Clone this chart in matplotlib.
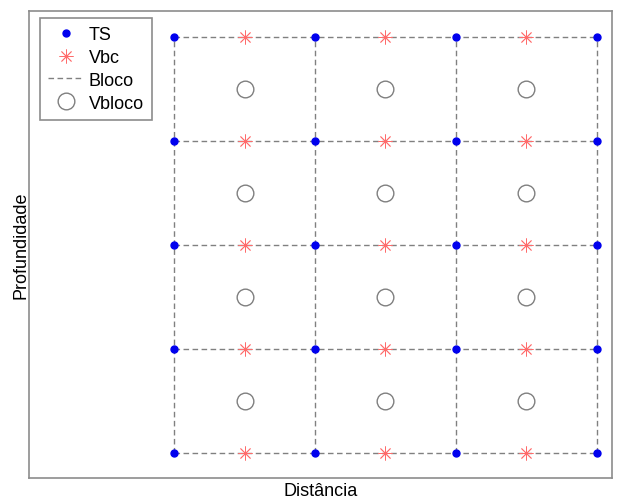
import numpy as np
import matplotlib.pyplot as plt

plt.rcParams['font.family'] = ['Liberation Sans', 'DejaVu Sans']

# block corner coordinates (distance, depth)
ts_x = [0, 1, 2, 3]
ts_y = [0, 1, 2, 3, 4]
# borehole centre points along each row
vbc_x = [0.5, 1.5, 2.5]
vbc_y = [0, 1, 2, 3, 4]
# block centres
vbloco_x = [0.5, 1.5, 2.5]
vbloco_y = [0.5, 1.5, 2.5, 3.5]

fig = plt.figure(figsize=(6.19, 5.02), dpi=100)
ax = fig.add_axes([0.047, 0.046, 0.942, 0.930])

# block outlines
first = True
for y in ts_y:
    ax.plot([ts_x[0], ts_x[-1]], [y, y], ls=(0, (4, 2.5)), color='#808080',
            lw=1, zorder=1, label='Bloco' if first else None)
    first = False
for x in ts_x:
    ax.plot([x, x], [ts_y[0], ts_y[-1]], ls=(0, (4, 2.5)), color='#808080', lw=1, zorder=1)

tx, ty = np.meshgrid(ts_x, ts_y)
ax.plot(tx.ravel(), ty.ravel(), 'o', color='#0000ee', ms=5, ls='none', zorder=3, label='TS')

vx, vy = np.meshgrid(vbc_x, vbc_y)
ax.plot(vx.ravel(), vy.ravel(), marker=(8, 2, 0), color='#ff6b6b', mew=0.6, ms=10,
        ls='none', zorder=3, label='Vbc')

bx, by = np.meshgrid(vbloco_x, vbloco_y)
ax.plot(bx.ravel(), by.ravel(), 'o', mfc='white', mec='#7f7f7f', mew=1, ms=12,
        ls='none', zorder=3, label='Vbloco')

ax.set_xlim(-1.03, 3.11)
ax.set_ylim(-0.24, 4.25)
ax.set_xticks([])
ax.set_yticks([])
for s in ax.spines.values():
    s.set_color('#8c8c8c')
    s.set_linewidth(1.2)

ax.set_xlabel('Distância', fontsize=13, labelpad=3)
ax.set_ylabel('Profundidade', fontsize=13, labelpad=0)

h, l = ax.get_legend_handles_labels()
order = [l.index(k) for k in ['TS', 'Vbc', 'Bloco', 'Vbloco']]
leg = ax.legend([h[i] for i in order], [l[i] for i in order], loc='upper left',
                bbox_to_anchor=(0.019, 0.985), borderaxespad=0,
                fontsize=13, fancybox=False, framealpha=1, edgecolor='#8c8c8c',
                handlelength=2.0, handletextpad=0.25,
                labelspacing=0.32, borderpad=0.45)
leg.get_frame().set_linewidth(1.2)

fig.savefig('out.png', dpi=100)
